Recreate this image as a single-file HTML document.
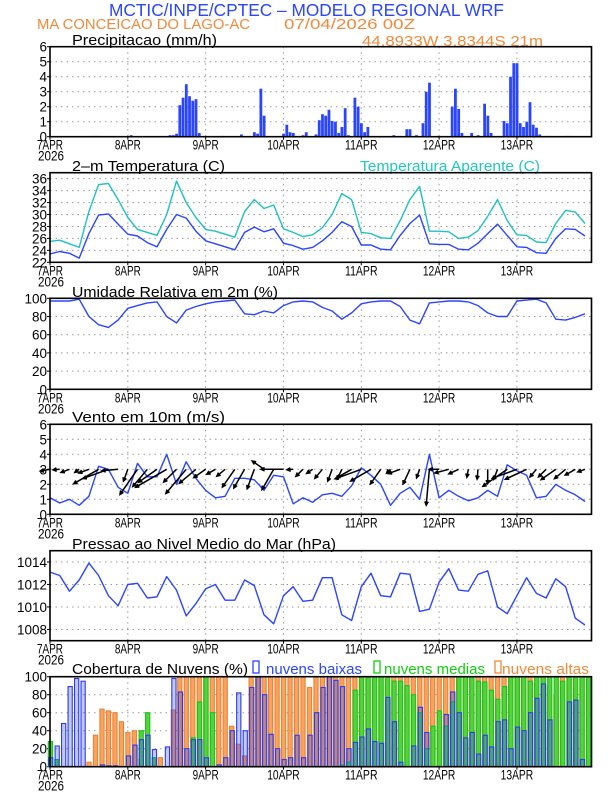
<!DOCTYPE html>
<html><head><meta charset="utf-8"><title>Meteograma WRF</title>
<style>
html,body{margin:0;padding:0;background:#fff;}
svg{display:block;font-family:"Liberation Sans",sans-serif;}
</style></head>
<body>
<svg id="chart" width="612" height="792" viewBox="0 0 612 792" xmlns="http://www.w3.org/2000/svg">
<rect x="0" y="0" width="612" height="792" fill="#fff"/>
<text x="109" y="16" font-size="17.5" fill="#2a45ff" textLength="395" lengthAdjust="spacingAndGlyphs">MCTIC/INPE/CPTEC – MODELO REGIONAL WRF</text>
<text x="37" y="29" font-size="15" fill="#f08a3c" textLength="213" lengthAdjust="spacingAndGlyphs">MA CONCEICAO DO LAGO-AC</text>
<text x="284" y="29" font-size="15" fill="#f08a3c" textLength="131" lengthAdjust="spacingAndGlyphs">07/04/2026 00Z</text>
<text x="362" y="46" font-size="15" fill="#f08a3c" textLength="181" lengthAdjust="spacingAndGlyphs">44.8933W 3.8344S 21m</text>
<text x="72" y="45" font-size="15" fill="#000" textLength="145" lengthAdjust="spacingAndGlyphs">Precipitacao (mm/h)</text>
<text x="72" y="171" font-size="15" fill="#000" textLength="153" lengthAdjust="spacingAndGlyphs">2–m Temperatura (C)</text>
<text x="360" y="171" font-size="15" fill="#20c8c0" textLength="180" lengthAdjust="spacingAndGlyphs">Temperatura Aparente (C)</text>
<text x="72" y="297" font-size="15" fill="#000" textLength="206" lengthAdjust="spacingAndGlyphs">Umidade Relativa em 2m (%)</text>
<text x="72" y="422" font-size="15" fill="#000" textLength="153" lengthAdjust="spacingAndGlyphs">Vento em 10m (m/s)</text>
<text x="72" y="549" font-size="15" fill="#000" textLength="264" lengthAdjust="spacingAndGlyphs">Pressao ao Nivel Medio do Mar (hPa)</text>
<text x="72" y="674" font-size="15" fill="#000" textLength="176" lengthAdjust="spacingAndGlyphs">Cobertura de Nuvens (%)</text>
<g>
<rect x="253" y="661" width="6" height="12" fill="none" stroke="#2a45ff" stroke-width="1.3"/>
<text x="266" y="674" font-size="15" fill="#2a45ff" textLength="96" lengthAdjust="spacingAndGlyphs">nuvens baixas</text>
<rect x="374" y="661" width="6" height="12" fill="none" stroke="#10d010" stroke-width="1.3"/>
<text x="384" y="674" font-size="15" fill="#10d010" textLength="101" lengthAdjust="spacingAndGlyphs">nuvens medias</text>
<rect x="495" y="661" width="6" height="12" fill="none" stroke="#f08a3c" stroke-width="1.3"/>
<text x="502" y="674" font-size="15" fill="#f08a3c" textLength="87" lengthAdjust="spacingAndGlyphs">nuvens altas</text>
</g>
</svg>
<script>
// ---------- data ----------
const dayLabels = ["7APR","8APR","9APR","10APR","11APR","12APR","13APR"];
const yearLabel = "2026";
const precipTicks = [0,1,2,3,4,5,6];
const tempTicks = [22,24,26,28,30,32,34,36];
const rhTicks = [0,20,40,60,80,100];
const windTicks = [0,1,2,3,4,5,6];
const presTicks = [1008,1010,1012,1014];
const cloudTicks = [0,20,40,60,80,100];
// hourly precipitation (mm/h), hours 0..167
const precip = [
0,0,0,0,0,0,0,0,0,0,0,0,0,0.05,0.05,0.05,0,0,0,0,0,0,0,0,
0,0.1,0,0,0,0,0,0,0,0,0,0,0,0.1,0.1,0.2,2.1,2.6,3.5,2.7,2.4,2.5,0.25,0,
0,0,0,0,0,0.05,0,0,0,0,0,0.15,0,0,0,0.3,0.2,3.2,1.4,0,0,0,0,0,
0.2,0.8,0.3,0.25,0,0,0.1,0.3,0,0,0.15,1.1,1.5,1.4,1.8,1.05,1.0,0.25,0.65,1.9,0.1,0,2.6,2.0,
0.9,0.3,0.65,0,0,0,0,0,0,0,0.1,0,0,0,0.5,0.5,0,0.1,0,0.9,3.0,3.6,0,0,
0,0,0,0,2.0,3.2,1.85,0.25,0,0,0.25,0,0.1,0,2.2,1.4,0.25,0,0,0,1.05,0.9,4.0,4.9,
4.9,0.9,0.65,1.0,2.3,0.8,0.6,0.15,0,0.05,0.05,0,0,0,0,0.05,0.05,0,0,0,0,0,0,0];
// 3-hourly series (hours 0,3,...,165)
const temp2m = [23.4,23.8,23.5,22.7,26.8,29.9,30.1,28.4,26.7,26.4,25.3,24.6,27.5,30.0,29.4,27.2,
25.6,25.1,24.6,24.1,27.0,27.9,27.1,27.6,25.2,24.8,24.2,24.5,25.6,27.0,28.8,28.0,
24.9,24.9,24.2,24.1,26.5,28.5,29.9,25.1,25.0,25.0,24.2,24.1,25.2,26.8,28.4,26.5,
24.6,24.5,23.6,23.5,26.0,27.6,27.5,26.4];
const tempApparent = [25.5,25.7,25.1,24.5,30.5,35.0,35.2,32.5,29.5,27.5,27.0,26.5,30.0,35.6,32.0,29.5,
27.5,27.2,26.7,26.2,30.5,32.5,31.0,31.6,27.6,27.0,26.3,26.6,27.8,30.0,33.5,32.5,
27.0,26.8,26.1,26.0,29.0,32.5,34.7,27.2,27.2,27.1,26.0,26.2,27.3,29.7,32.5,29.0,
26.6,26.5,25.4,25.3,28.5,30.7,30.4,28.5];
const relHum = [97,97,97,99,80,71,68,76,89,92,95,96,80,73,87,91,
94,96,97,98,83,82,86,84,92,96,97,96,90,86,77,84,
94,96,97,97,91,76,72,95,96,97,97,96,92,84,80,80,
97,98,99,95,77,76,79,83];
const windSpeed = [1.1,0.75,1.0,0.6,1.2,3.2,3.0,1.8,1.4,3.4,2.5,2.5,4.0,2.0,3.5,2.4,
1.6,1.1,1.2,2.4,2.4,2.3,1.6,2.6,2.5,0.7,1.1,0.8,1.3,1.4,1.2,1.9,
3.1,2.6,2.0,0.6,1.4,1.8,1.0,4.0,1.1,1.6,1.2,0.9,1.1,1.6,1.2,3.3,
2.9,2.6,1.1,1.2,2.0,1.6,1.3,0.85];
// direction the arrow points (degrees, 0 = east, 90 = north)
const windDir = [190,185,200,215,200,210,200,185,250,235,230,215,210,225,230,220,
215,210,220,235,240,250,145,240,180,185,225,215,230,250,245,210,
200,210,235,225,200,245,250,265,180,195,205,260,265,270,250,215,
200,205,230,225,215,220,210,200];
const pressure = [1013.1,1012.8,1011.4,1012.4,1013.9,1012.8,1011.0,1010.1,1012.0,1012.1,1010.8,1010.9,1012.7,1011.5,1009.2,1010.3,
1011.6,1012.0,1010.6,1010.6,1012.4,1011.9,1009.3,1008.5,1011.0,1011.8,1010.5,1010.6,1012.6,1012.6,1009.3,1008.8,
1011.8,1013.0,1011.0,1010.9,1013.0,1012.9,1009.6,1009.8,1012.2,1013.4,1011.5,1011.4,1012.9,1013.2,1010.0,1009.4,
1011.0,1012.6,1011.2,1010.8,1012.5,1011.8,1009.0,1008.4];
// 2-hourly cloud cover (%) hours 0,2,...,166
const cloudLow = [10,23,48,89,98,95,0,0,2,1,1,0,
12,24,30,35,19,0,22,98,83,20,30,30,
10,0,2,10,40,82,40,88,100,80,36,20,
8,10,35,10,35,60,88,100,96,89,20,27,
33,42,28,26,77,50,5,0,23,66,38,0,
0,58,83,60,32,38,14,35,22,50,52,20,
44,40,60,76,92,52,0,0,72,74,8,0];
const cloudMid = [28,8,0,0,0,0,0,0,0,0,0,0,
0,0,40,60,10,0,0,0,0,0,32,72,
100,60,0,0,0,0,0,0,0,0,0,0,
0,0,0,0,0,0,0,0,0,2,5,85,
100,100,100,100,100,95,95,90,80,60,20,45,
62,45,72,100,100,100,95,94,85,75,89,100,
100,100,95,100,100,100,100,95,100,100,100,100];
const cloudHigh = [0,0,0,0,0,0,5,35,64,62,60,50,
38,40,8,0,0,10,0,63,100,100,100,100,
100,100,100,100,45,25,12,100,100,100,100,100,
100,100,100,100,88,100,100,100,100,100,100,100,
100,100,100,100,100,100,100,100,100,100,100,100,
100,100,100,100,100,100,100,100,100,100,100,100,
100,100,100,100,100,90,80,100,100,100,100,100];

// ---------- drawing ----------
const svg = document.getElementById('chart');
const NS = 'http://www.w3.org/2000/svg';
const X0 = 50, X1 = 591.5, HMAX = 167;
function xh(h){ return X0 + h*(X1-X0)/HMAX; }
function mk(tag, attrs, parent){
  const e = document.createElementNS(NS, tag);
  for (const k in attrs) e.setAttribute(k, attrs[k]);
  (parent||svg).appendChild(e);
  return e;
}
function scaleY(p){ return v => p.bot - (v - p.min)*(p.bot - p.top)/(p.max - p.min); }

const panels = {
  precip:{top:46.7, bot:136.7, min:0, max:6, ticks:precipTicks},
  temp:{top:172.7, bot:262.3, min:22, max:37, ticks:tempTicks},
  rh:{top:298.3, bot:389.3, min:0, max:100, ticks:rhTicks},
  wind:{top:424.3, bot:514.3, min:0, max:6, ticks:windTicks},
  pres:{top:550.7, bot:640.7, min:1007, max:1015, ticks:presTicks},
  cloud:{top:676.7, bot:766.7, min:0, max:100, ticks:cloudTicks}
};

function drawFrame(name, p){
  const y = scaleY(p);
  const g = mk('g', {});
  
  
  p.ticks.forEach(t => {
    const yy = y(t);
    if (yy > p.top + 1 && yy < p.bot - 1) {
      const gl = mk('line', {x1:X0, x2:X1, y1:yy, y2:yy, stroke:'#999', 'stroke-width':1, 'stroke-dasharray':'1.5,4'}, g);
      
      
    }
    const tk = mk('line', {x1:X0-3, x2:X0, y1:yy, y2:yy, stroke:'#000', 'stroke-width':1}, g);
    
    
    const lb = mk('text', {x:X0-3, y:yy+5, 'font-size':13.5, 'text-anchor':'end', fill:'#000'}, g);
    
    
    lb.textContent = String(t);
  });
  dayLabels.forEach((d, i) => {
    const xx = xh(i*24);
    if (i > 0) {
      const vg = mk('line', {x1:xx, x2:xx, y1:p.top, y2:p.bot, stroke:'#999', 'stroke-width':1, 'stroke-dasharray':'1.5,4'}, g);
      
      
    }
    const tk = mk('line', {x1:xx, x2:xx, y1:p.bot, y2:p.bot+3, stroke:'#000'}, g);
    
    
    const lb = mk('text', {x:xx, y:p.bot+13, 'font-size':13.5, 'text-anchor':'middle', fill:'#000', 'textLength': d.length*6.5, 'lengthAdjust':'spacingAndGlyphs'}, g);
    
    
    lb.textContent = d;
  });
  const yl = mk('text', {x:X0-12, y:p.bot+24, 'font-size':13.5, fill:'#000', textLength:26, lengthAdjust:'spacingAndGlyphs'}, g);
  
  
  yl.textContent = yearLabel;
}
function drawBox(name, p){
  const b = mk('rect', {x:X0, y:p.top, width:X1-X0, height:p.bot-p.top, fill:'none', stroke:'#000', 'stroke-width':1.6});
  
  
}
function drawLine(name, p, vals, step, color){
  const y = scaleY(p);
  const pts = vals.map((v,i) => xh(i*step).toFixed(1) + ',' + y(v).toFixed(1)).join(' ');
  const l = mk('polyline', {points:pts, fill:'none', stroke:color, 'stroke-width':1.4, 'stroke-linejoin':'round'});
  
  
}

Object.keys(panels).forEach(k => drawFrame(k, panels[k]));

// precipitation bars
(function(){
  const p = panels.precip, y = scaleY(p);
  const g = mk('g', {});
  
  
  precip.forEach((v, h) => {
    if (v <= 0) return;
    const r = mk('rect', {x:xh(h)-1.3, y:y(v), width:2.8, height:p.bot - y(v), fill:'#2a45ff'}, g);
    
    
  });
})();

drawLine('apparent-temp-line', panels.temp, tempApparent, 3, '#20c0c0');
drawLine('temp-2m-line', panels.temp, temp2m, 3, '#2a45ff');
drawLine('rh-line', panels.rh, relHum, 3, '#2a45ff');
drawLine('wind-speed-line', panels.wind, windSpeed, 3, '#2a45ff');
drawLine('pressure-line', panels.pres, pressure, 3, '#2a45ff');

// wind arrows
(function(){
  const p = panels.wind, y = scaleY(p);
  const g = mk('g', {});
  
  
  windDir.forEach((d, i) => {
    const x0 = xh(i*3), y0 = y(3);
    const len = Math.max(5, windSpeed[i]*9);
    const a = d*Math.PI/180;
    const x1 = x0 + Math.cos(a)*len, y1 = y0 - Math.sin(a)*len;
    const h1a = a + Math.PI - 0.45, h2a = a + Math.PI + 0.45;
    const path = 'M' + x0.toFixed(1) + ',' + y0.toFixed(1) + 'L' + x1.toFixed(1) + ',' + y1.toFixed(1) +
      'M' + (x1 + Math.cos(h1a)*4).toFixed(1) + ',' + (y1 - Math.sin(h1a)*4).toFixed(1) + 'L' + x1.toFixed(1) + ',' + y1.toFixed(1) +
      'L' + (x1 + Math.cos(h2a)*4).toFixed(1) + ',' + (y1 - Math.sin(h2a)*4).toFixed(1);
    const ar = mk('path', {d:path, stroke:'#000', 'stroke-width':1.5, fill:'none'}, g);
    
    
  });
})();

// cloud bars
(function(){
  const p = panels.cloud, y = scaleY(p);
  const series = [
    {vals:cloudHigh, fill:'#f7a460', stroke:'#f08030', name:'cloud-high-bar', off:0},
    {vals:cloudMid, fill:'#58d040', stroke:'#10c810', name:'cloud-mid-bar', off:0.3},
    {vals:cloudLow, fill:'rgba(40,60,230,0.28)', stroke:'#2a3cf0', name:'cloud-low-bar', off:0.6}
  ];
  series.forEach(s => {
    const g = mk('g', {});
    
    
    s.vals.forEach((v, i) => {
      if (v <= 0) return;
      const r = mk('rect', {x:xh(i*2)-2+s.off, y:y(v), width:4.2, height:p.bot - y(v), fill:s.fill, stroke:s.stroke, 'stroke-width':1.1}, g);
      
      
    });
  });
})();

Object.keys(panels).forEach(k => drawBox(k, panels[k]));
</script>
</body></html>
